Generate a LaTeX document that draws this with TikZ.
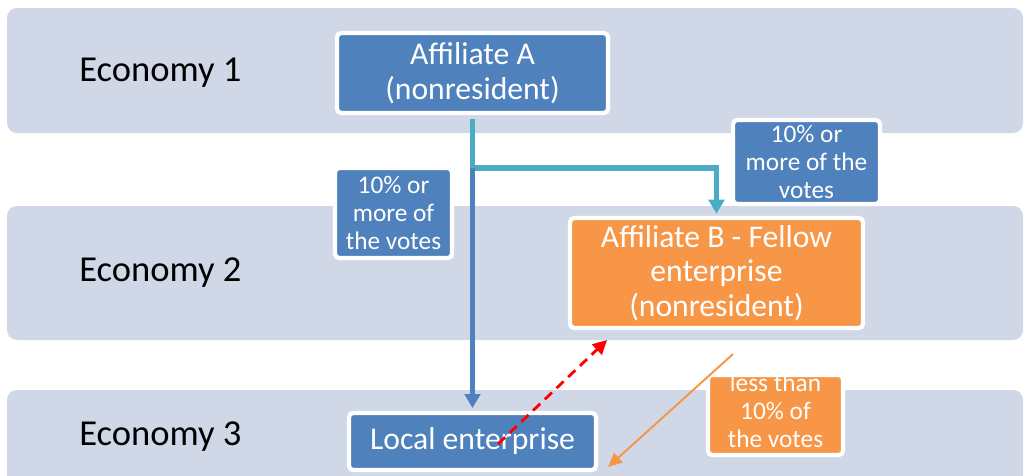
\documentclass[tikz,border=0pt]{standalone}
\usepackage{fontspec}
\setmainfont{Carlito}
\usetikzlibrary{arrows.meta}
\definecolor{bandc}{RGB}{208,216,232}
\definecolor{blueb}{RGB}{79,129,189}
\definecolor{cyanl}{RGB}{75,172,198}
\definecolor{orangeb}{RGB}{247,150,70}
\begin{document}
\begin{tikzpicture}[x=0.025cm,y=-0.025cm,
  econ/.style={font=\fontsize{26}{30}\selectfont,anchor=west,inner sep=0pt},
  bigbox/.style={draw=white,line width=3pt,rounded corners=3pt,text=white,align=center,inner sep=0pt,font=\fontsize{22.5}{24.5}\selectfont},
  smallbox/.style={draw=white,line width=3pt,rounded corners=3pt,text=white,align=center,inner sep=0pt,font=\fontsize{18}{19.8}\selectfont},
  conn/.style={line width=3.8pt,-{Triangle[length=10pt,width=11pt]}},
]
\useasboundingbox (0,0) rectangle (1026,475);
% bands
\fill[bandc,rounded corners=7pt] (7,8) rectangle (1023,133);
\fill[bandc,rounded corners=7pt] (7,206) rectangle (1023,340);
\fill[bandc,rounded corners=7pt] (7,390) rectangle (1023,486);
\node[econ] (e1) at (79,73) {Economy 1};
\node[econ] (e2) at (79,273) {Economy 2};
\node[econ] (e3) at (79,437) {Economy 3};
% boxes
\node[bigbox,fill=blueb,minimum width=271*0.025cm,minimum height=80*0.025cm] (A) at (472.5,73) {Affiliate A\\(nonresident)};
\node[bigbox,fill=orangeb,minimum width=293*0.025cm,minimum height=110*0.025cm] (B) at (716.5,273) {Affiliate B - Fellow\\enterprise\\(nonresident)};
\node[bigbox,fill=blueb,minimum width=247*0.025cm,minimum height=57*0.025cm] (L) at (472.5,441.5) {Local enterprise};
\node[smallbox,fill=blueb,minimum width=147*0.025cm,minimum height=84*0.025cm] (lr) at (806.5,162) {10\% or\\more of the\\votes};
\node[smallbox,fill=blueb,minimum width=117*0.025cm,minimum height=90*0.025cm] (ll) at (393.5,213) {10\% or\\more of\\the votes};
\node[smallbox,fill=orangeb,minimum width=135*0.025cm,minimum height=80*0.025cm] (lo) at (775.5,415) {};
\begin{scope}
\clip (lo.north west) rectangle (lo.south east);
\node[text=white,align=center,inner sep=0pt,font=\fontsize{18}{19.8}\selectfont] (lot) at (775.5,411) {less than\\10\% of\\the votes};
\end{scope}
% connectors
\coordinate (j) at (472.5,168);
\draw[cyanl,line width=3.8pt] ([yshift=-3pt]A.south) -- ([yshift=-1.4pt]j);
\draw[cyanl,conn] (j) -| ([yshift=1.5pt]B.north);
\draw[blueb,conn] (j) -- ([yshift=2pt]L.north);
\coordinate (rs) at (498,444);
\coordinate (re) at (607,340);
\draw[red,line width=2pt,dash pattern=on 7pt off 4.5pt,-{Triangle[length=10pt,width=10pt]}] (rs) -- (re);
\coordinate (os) at (733,354);
\coordinate (oe) at (608,467);
\draw[orangeb,line width=1.4pt,-{Triangle[length=10pt,width=9pt]}] (os) -- (oe);
\end{tikzpicture}
\end{document}
